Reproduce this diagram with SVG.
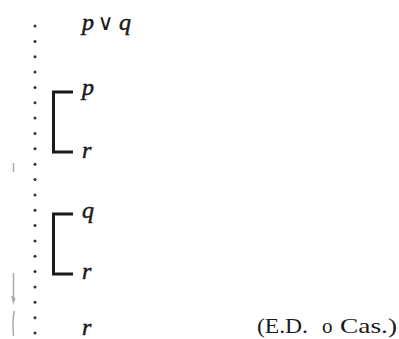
<svg xmlns="http://www.w3.org/2000/svg" width="399" height="339" viewBox="0 0 399 339">
<style>
.v{font-family:"Liberation Serif","Times New Roman",serif;font-style:italic;font-size:24px;fill:#1a1a1a;stroke:#1a1a1a;stroke-width:0.5}
.t{font-family:"Liberation Serif","Times New Roman",serif;font-size:21px;fill:#1a1a1a}
.br{fill:none;stroke:#1a1a1a;stroke-width:3}
.d{fill:#333}
.f{fill:none;stroke:#aaa;stroke-width:1.5}
</style>
<rect width="399" height="339" fill="#fff"/>
<g id="dots">
<circle class="d" cx="35" cy="26" r="1.5"/><circle class="d" cx="35" cy="41.4" r="1.5"/><circle class="d" cx="35" cy="56.7" r="1.5"/><circle class="d" cx="35" cy="72.1" r="1.5"/><circle class="d" cx="35" cy="87.4" r="1.5"/><circle class="d" cx="35" cy="102.8" r="1.5"/><circle class="d" cx="35" cy="118.1" r="1.5"/><circle class="d" cx="35" cy="133.5" r="1.5"/><circle class="d" cx="35" cy="148.8" r="1.5"/><circle class="d" cx="35" cy="164.2" r="1.5"/><circle class="d" cx="35" cy="179.5" r="1.5"/><circle class="d" cx="35" cy="194.9" r="1.5"/><circle class="d" cx="35" cy="210.2" r="1.5"/><circle class="d" cx="35" cy="225.6" r="1.5"/><circle class="d" cx="35" cy="240.9" r="1.5"/><circle class="d" cx="35" cy="256.3" r="1.5"/><circle class="d" cx="35" cy="271.6" r="1.5"/><circle class="d" cx="35" cy="287" r="1.5"/><circle class="d" cx="35" cy="302.3" r="1.5"/><circle class="d" cx="35" cy="317.7" r="1.5"/><circle class="d" cx="35" cy="333" r="1.5"/>
</g>
<g id="premise">
<text class="v" x="82" y="30">p</text>
<text x="105.5" y="30" text-anchor="middle" style="font-family:'DejaVu Sans',sans-serif;font-size:22px;fill:#1a1a1a">∨</text>
<text class="v" x="119" y="30">q</text>
</g>
<g id="case1">
<path class="br" d="M73,92 H53.5 V152 H73"/>
<text class="v" x="82" y="95">p</text>
<text class="v" x="82" y="158">r</text>
</g>
<g id="case2">
<path class="br" d="M73,214 H53.5 V274 H73"/>
<text class="v" x="82" y="218">q</text>
<text class="v" x="82" y="279">r</text>
</g>
<g id="conclusion">
<text class="v" x="82" y="335">r</text>
<text class="t" x="257" y="333" textLength="51" lengthAdjust="spacingAndGlyphs">(E.D.</text>
<text class="t" x="322" y="333">o</text>
<text class="t" x="340" y="333" textLength="57" lengthAdjust="spacingAndGlyphs">Cas.)</text>
</g>
<g id="marks">
<path class="f" d="M13.5,163 V172"/>
<path class="f" d="M13.5,273 V300 M12,296 L13.5,302 L15,298 M14.5,311 Q12,318 13.5,336"/>
</g>
</svg>
